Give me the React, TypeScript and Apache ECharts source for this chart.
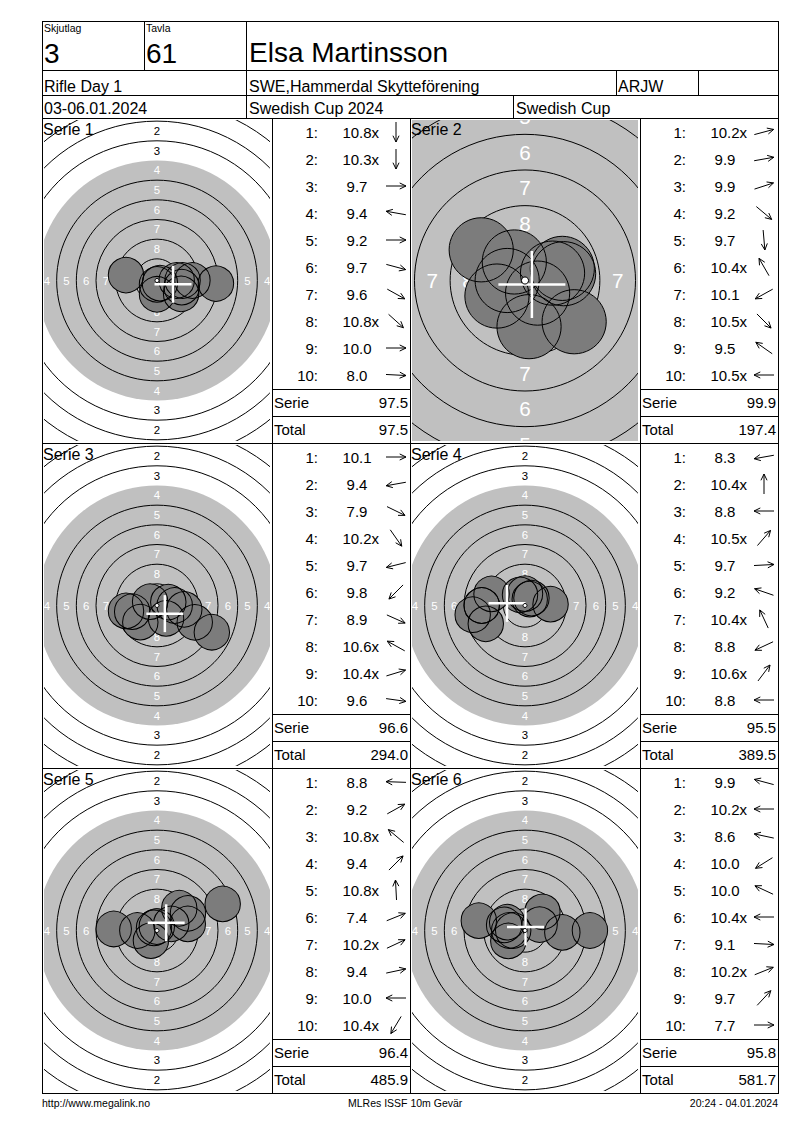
import React, { useEffect, useRef } from 'react';
import * as echarts from 'echarts';

// ---- data read from the score card ----
const seriesNames = ['Serie 1', 'Serie 2', 'Serie 3', 'Serie 4', 'Serie 5', 'Serie 6'];

const shotScores = [
  ['10.8x', '10.3x', '9.7', '9.4', '9.2', '9.7', '9.6', '10.8x', '10.0', '8.0'],
  ['10.2x', '9.9', '9.9', '9.2', '9.7', '10.4x', '10.1', '10.5x', '9.5', '10.5x'],
  ['10.1', '9.4', '7.9', '10.2x', '9.7', '9.8', '8.9', '10.6x', '10.4x', '9.6'],
  ['8.3', '10.4x', '8.8', '10.5x', '9.7', '9.2', '10.4x', '8.8', '10.6x', '8.8'],
  ['8.8', '9.2', '10.8x', '9.4', '10.8x', '7.4', '10.2x', '9.4', '10.0', '10.4x'],
  ['9.9', '10.2x', '8.6', '10.0', '10.0', '10.4x', '9.1', '10.2x', '9.7', '7.7'],
];

// arrow direction of every shot, degrees (0 = right, 90 = up)
const shotDirections = [
  [-90, -90, 0, 170, 0, -15, -29, -42, 0, -3],
  [15, 10, 18, -40, -85, 120, -151, -45, 145, 180],
  [0, -170, -26, -55, -166, -135, -24, 151, 17, -8],
  [-170, 90, 180, 49, 3, 161, 115, -155, 53, 180],
  [178, 29, 140, 45, 93, 22, 25, 12, 180, -121],
  [165, 180, 168, -148, 155, 180, -3, 22, 47, 0],
];

// px per mm of each target picture (serie 2 is shown enlarged)
const zoomLevels = [7.87, 14.26, 7.87, 7.87, 7.87, 7.87];

const headerNumbers = { skjutlag: '3', tavla: '61' };
const shooter = 'Elsa Martinsson';
const headerTexts = {
  event: 'Rifle Day 1',
  club: 'SWE,Hammerdal Skytteförening',
  klass: 'ARJW',
  dates: '03-06.01.2024',
  competition: 'Swedish Cup 2024',
  cup: 'Swedish Cup',
};
const footer = ['http://www.megalink.no', 'MLRes ISSF 10m Gevär', '20:24 - 04.01.2024'];

// ISSF 10m air rifle target, ring radii in mm (ring 1 .. 10)
const RING_RADII = [22.75, 20.25, 17.75, 15.25, 12.75, 10.25, 7.75, 5.25, 2.75, 0.25];
const RING_WIDTH = 2.5;
const PELLET = 4.5;
const CROSS_HALF = 2.35;
const LABEL_MM = 1.45;

// ---- layout ----
const FONT = '"Liberation Sans", Arial, Helvetica, sans-serif';
const L = 42;
const R = 778;
const TOP = 21;
const SERIES_TOP = 118;
const ROW_H = 325;
const TARGET_W = 230;
const LIST_W = 138;
const PAIR_W = TARGET_W + LIST_W;

const txt = (x: number, y: number, text: string, size: number, align = 'left', fill = '#000') => ({
  type: 'text',
  x,
  y,
  z: 100,
  silent: true,
  style: {
    text,
    fill,
    font: `${size}px ${FONT}`,
    textAlign: align,
    textVerticalAlign: 'middle',
    align,
    verticalAlign: 'middle',
  },
});

const ln = (x1: number, y1: number, x2: number, y2: number, w = 1) => ({
  type: 'line',
  z: 100,
  silent: true,
  shape: { x1, y1, x2, y2 },
  style: { stroke: '#000', lineWidth: w },
});

const arrow = (cx: number, cy: number, deg: number) => {
  const a = (deg * Math.PI) / 180;
  const ux = Math.cos(a);
  const uy = -Math.sin(a);
  const half = 10;
  const hx = cx + ux * half;
  const hy = cy + uy * half;
  const barb = (s: number) => {
    const c = Math.cos(s);
    const sn = Math.sin(s);
    const bx = ux * c - uy * sn;
    const by = ux * sn + uy * c;
    return [hx - bx * 7, hy - by * 7];
  };
  return [
    {
      type: 'line', z: 100, silent: true,
      shape: { x1: cx - ux * half, y1: cy - uy * half, x2: hx, y2: hy },
      style: { stroke: '#000', lineWidth: 1 },
    },
    {
      type: 'polyline', z: 100, silent: true,
      shape: { points: [barb(0.45), [hx, hy], barb(-0.45)] },
      style: { stroke: '#000', fill: 'none', lineWidth: 1 },
    },
  ];
};

const numWidth = (s: string, size: number) =>
  s.split('').reduce((w, ch) => w + (ch === '.' ? 0.278 : 0.556), 0) * size;

function buildOption(): echarts.EChartsOption {
  const grid: any[] = [];
  const xAxis: any[] = [];
  const yAxis: any[] = [];
  const series: any[] = [];
  const elements: any[] = [];

  // header frame
  elements.push(
    ln(L + 0.5, TOP, L + 0.5, 1094),
    ln(R + 0.5, TOP, R + 0.5, 1094),
    ln(L, TOP + 0.5, R + 1, TOP + 0.5),
    ln(L, 70.5, R + 1, 70.5),
    ln(L, 95.5, R + 1, 95.5),
    ln(L, 118.5, R + 1, 118.5),
    ln(L, 443.5, R + 1, 443.5),
    ln(L, 768.5, R + 1, 768.5),
    ln(L, 1093.5, R + 1, 1093.5),
    ln(144.5, TOP, 144.5, 70),
    ln(246.5, TOP, 246.5, 118),
    ln(616.5, 70, 616.5, 95),
    ln(698.5, 70, 698.5, 95),
    ln(513.5, 95, 513.5, 118),
    ln(272.5, 118, 272.5, 1093),
    ln(410.5, 118, 410.5, 1093),
    ln(640.5, 118, 640.5, 1093),
  );
  elements.push(
    txt(44, 28, 'Skjutlag', 10.5),
    txt(146, 28, 'Tavla', 10.5),
    txt(44, 53, headerNumbers.skjutlag, 28),
    txt(146, 53, headerNumbers.tavla, 28),
    txt(249, 52, shooter, 28),
    txt(44, 86, headerTexts.event, 16),
    txt(249, 86, headerTexts.club, 16),
    txt(618, 86, headerTexts.klass, 16),
    txt(44, 108.5, headerTexts.dates, 16),
    txt(249, 108.5, headerTexts.competition, 16),
    txt(516, 108.5, headerTexts.cup, 16),
    txt(42, 1103, footer[0], 10.5),
    txt(348, 1103, footer[1], 10.5),
    txt(778, 1103, footer[2], 10.5, 'right'),
  );

  let running = 0;

  seriesNames.forEach((name, i) => {
    const col = i % 2;
    const row = Math.floor(i / 2);
    const px = L + col * PAIR_W;
    const py = SERIES_TOP + row * ROW_H;
    const s = zoomLevels[i];
    const gw = TARGET_W - 4;
    const gh = ROW_H - 4;
    const hw = gw / 2 / s;
    const hh = gh / 2 / s;
    grid.push({ left: px + 2, top: py + 2, width: gw, height: gh });
    xAxis.push({ type: 'value', gridIndex: i, min: -hw, max: hw, show: false });
    yAxis.push({ type: 'value', gridIndex: i, min: -hh, max: hh, show: false });

    const shots = shotScores[i].map((v, k) => {
      const d = (11 - parseFloat(v)) * RING_WIDTH;
      const a = (shotDirections[i][k] * Math.PI) / 180;
      return [d * Math.cos(a), d * Math.sin(a)];
    });
    const mpi = [
      shots.reduce((a, p) => a + p[0], 0) / shots.length,
      shots.reduce((a, p) => a + p[1], 0) / shots.length,
    ];

    const ax = { xAxisIndex: i, yAxisIndex: i, silent: true, animation: false };

    // aiming area (rings 4 .. 10), printed light grey
    series.push({
      ...ax, type: 'custom', clip: true, z: 1,
      data: [[0, 0, RING_RADII[3]]],
      renderItem: (_p: any, api: any) => {
        const c = api.coord([api.value(0), api.value(1)]);
        return {
          type: 'circle',
          shape: { cx: c[0], cy: c[1], r: api.size([api.value(2), 0])[0] },
          style: { fill: '#c0c0c0' },
        };
      },
    });
    // ring lines
    series.push({
      ...ax, type: 'custom', clip: true, z: 2,
      data: RING_RADII.map((r, k) => [0, 0, r, k + 1]).filter((d) => d[3] !== 4 && d[3] !== 10),
      renderItem: (_p: any, api: any) => {
        const c = api.coord([api.value(0), api.value(1)]);
        return {
          type: 'circle',
          shape: { cx: c[0], cy: c[1], r: api.size([api.value(2), 0])[0] },
          style: { fill: 'none', stroke: '#000', lineWidth: 1 },
        };
      },
    });
    // ring numbers, only those that reach into the picture
    const edge = LABEL_MM * 0.45;
    const labelData: number[][] = [];
    RING_RADII.slice(0, 8).forEach((r, k) => {
      const m = r - RING_WIDTH / 2;
      [[0, m], [0, -m], [-m, 0], [m, 0]].forEach(([x, y]) => {
        if (Math.abs(x) <= hw + edge && Math.abs(y) <= hh + edge) labelData.push([x, y, k + 1]);
      });
    });
    series.push({
      ...ax, type: 'custom', clip: true, z: 3,
      data: labelData,
      renderItem: (_p: any, api: any) => {
        const c = api.coord([api.value(0), api.value(1)]);
        const n = api.value(2);
        const fs = api.size([LABEL_MM, 0])[0];
        return {
          type: 'text',
          x: c[0],
          y: c[1],
          style: {
            text: String(n),
            fill: n >= 4 ? '#ffffff' : '#000000',
            font: `${fs.toFixed(1)}px ${FONT}`,
            textAlign: 'center',
            textVerticalAlign: 'middle',
            align: 'center',
            verticalAlign: 'middle',
          },
        };
      },
    });
    // shots: fills first, outlines on top
    series.push({
      ...ax, type: 'scatter', z: 4, clip: true,
      data: shots,
      symbol: 'circle',
      symbolSize: PELLET * s,
      itemStyle: { color: '#7c7c7c', opacity: 1 },
    });
    series.push({
      ...ax, type: 'scatter', z: 5, clip: true,
      data: shots,
      symbol: 'circle',
      symbolSize: PELLET * s,
      itemStyle: { color: 'rgba(0,0,0,0)', borderColor: '#000', borderWidth: 1, opacity: 1 },
    });
    // mean point of impact
    series.push({
      ...ax, type: 'custom', clip: true, z: 6,
      data: [mpi],
      renderItem: (_p: any, api: any) => {
        const c = api.coord([api.value(0), api.value(1)]);
        const h = api.size([CROSS_HALF, 0])[0];
        const st = { stroke: '#ffffff', lineWidth: 2.5 };
        return {
          type: 'group',
          children: [
            { type: 'line', shape: { x1: c[0] - h, y1: c[1], x2: c[0] + h, y2: c[1] }, style: st },
            { type: 'line', shape: { x1: c[0], y1: c[1] - h, x2: c[0], y2: c[1] + h }, style: st },
          ],
        };
      },
    });
    // ten ring dot
    series.push({
      ...ax, type: 'custom', clip: true, z: 7,
      data: [[0, 0, RING_RADII[9]]],
      renderItem: (_p: any, api: any) => {
        const c = api.coord([api.value(0), api.value(1)]);
        const r = Math.max(api.size([api.value(2), 0])[0], 2);
        return {
          type: 'circle',
          shape: { cx: c[0], cy: c[1], r },
          style: { fill: '#ffffff', stroke: '#000', lineWidth: 1 },
        };
      },
    });

    elements.push(txt(px + 1, py + 11, name, 16));

    // score list
    const lx = px + TARGET_W;
    shotScores[i].forEach((v, k) => {
      const y = py + 14 + k * 27;
      const num = v.replace('x', '');
      elements.push(txt(lx + 46, y, `${k + 1}:`, 15, 'right'));
      elements.push(txt(lx + 85 - numWidth(num, 15) / 2, y, v, 15));
      elements.push(...arrow(lx + 124, y, shotDirections[i][k]));
    });
    const serieSum = shotScores[i].reduce((a, v) => a + parseFloat(v), 0);
    running += serieSum;
    elements.push(
      ln(lx, py + 271.5, lx + LIST_W, py + 271.5),
      ln(lx, py + 298.5, lx + LIST_W, py + 298.5),
      txt(lx + 2, py + 284.5, 'Serie', 15),
      txt(lx + 136, py + 284.5, serieSum.toFixed(1), 15, 'right'),
      txt(lx + 2, py + 311.5, 'Total', 15),
      txt(lx + 136, py + 311.5, running.toFixed(1), 15, 'right'),
    );
  });

  return {
    animation: false,
    backgroundColor: '#ffffff',
    grid,
    xAxis,
    yAxis,
    series,
    graphic: { elements },
  } as any;
}

export default function App() {
  const ref = useRef<HTMLDivElement>(null);

  useEffect(() => {
    document.body.style.margin = '0';
    if (!ref.current) return;
    const chart = echarts.init(ref.current, undefined, { renderer: 'svg' });
    chart.setOption(buildOption());
    return () => {
      chart.dispose();
    };
  }, []);

  return <div ref={ref} style={{ width: 800, height: 1130 }} />;
}
